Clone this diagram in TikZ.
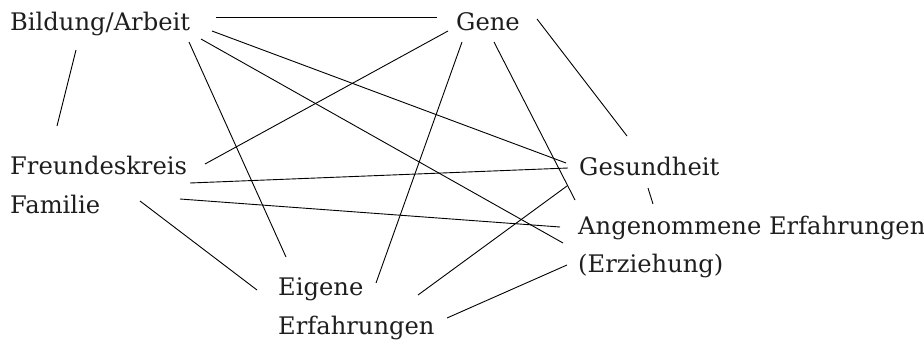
\documentclass[tikz,border=0pt]{standalone}
\usepackage{fontspec}
\setmainfont{DejaVu Serif}
\definecolor{txt}{HTML}{1E1E1E}
\begin{document}
\begin{tikzpicture}[x=1pt,y=-1pt,
  lbl/.style={anchor=base west,inner sep=0pt,text=txt,font=\fontsize{24.2}{29}\selectfont},
  link/.style={line width=0.9pt,black}]
\useasboundingbox (0,0) rectangle (924,340);
% labels
\node[lbl] (bild) at (10,30) {Bildung/Arbeit};
\node[lbl] (gene) at (456,30) {Gene};
\node[lbl] (freu) at (10,174) {Freundeskreis};
\node[lbl] (fam) at (10,213) {Familie};
\node[lbl] (ges) at (579,175) {Gesundheit};
\node[lbl] (ang) at (578,234) {Angenommene Erfahrungen};
\node[lbl] (erz) at (578,272) {(Erziehung)};
\node[lbl] (eig) at (278,295) {Eigene};
\node[lbl] (erf) at (278,334) {Erfahrungen};
% connector end points
\coordinate (bA) at (216,17);   \coordinate (gA) at (437,17);
\coordinate (bB) at (76,50);    \coordinate (fB) at (57,126);
\coordinate (bC) at (212,31);   \coordinate (sC) at (566,163);
\coordinate (bD) at (189,42);   \coordinate (eD) at (286,257);
\coordinate (bE) at (201,39);   \coordinate (aE) at (563,243);
\coordinate (gF) at (448,31);   \coordinate (fF) at (205,164);
\coordinate (gG) at (462,42);   \coordinate (eG) at (376,283);
\coordinate (gH) at (494,42);   \coordinate (aH) at (575,200);
\coordinate (gI) at (537,19);   \coordinate (sI) at (627,136);
\coordinate (fJ) at (190,183);  \coordinate (sJ) at (568,168);
\coordinate (mK) at (180,199);  \coordinate (aK) at (560,227);
\coordinate (mL) at (140,201);  \coordinate (eL) at (257,290);
\coordinate (sM) at (648,188);  \coordinate (aM) at (653,204);
\coordinate (sN) at (567,186);  \coordinate (eN) at (418,295);
\coordinate (eO) at (447,318);  \coordinate (aO) at (567,265);
% connectors
\draw[link] (bA) -- (gA);
\draw[link] (bB) -- (fB);
\draw[link] (bC) -- (sC);
\draw[link] (bD) -- (eD);
\draw[link] (bE) -- (aE);
\draw[link] (gF) -- (fF);
\draw[link] (gG) -- (eG);
\draw[link] (gH) -- (aH);
\draw[link] (gI) -- (sI);
\draw[link] (fJ) -- (sJ);
\draw[link] (mK) -- (aK);
\draw[link] (mL) -- (eL);
\draw[link] (sM) -- (aM);
\draw[link] (sN) -- (eN);
\draw[link] (eO) -- (aO);
\end{tikzpicture}
\end{document}
